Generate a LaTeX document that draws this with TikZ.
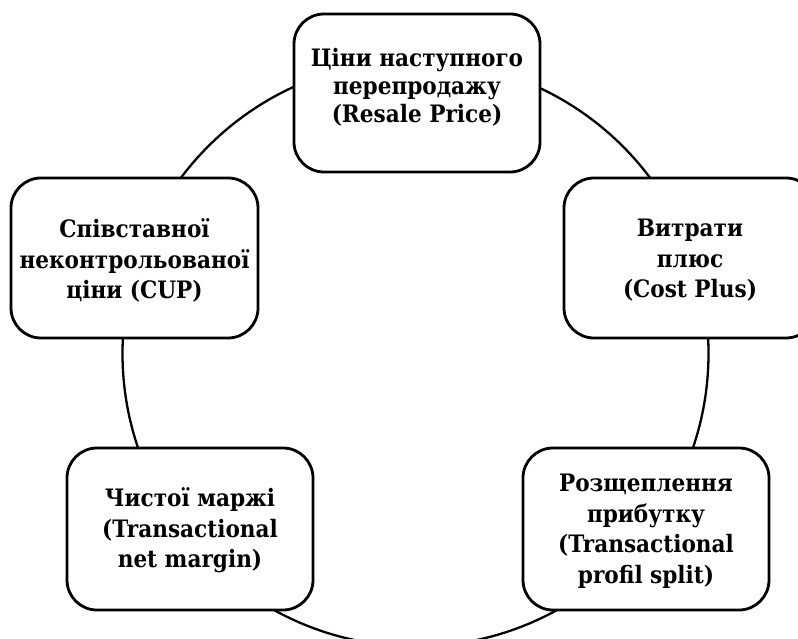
\documentclass[tikz,border=0pt]{standalone}
\usepackage{fontspec}
\setmainfont[FakeStretch=0.9]{DejaVu Serif}
\begin{document}
\begin{tikzpicture}[x=1pt,y=-1pt,
  box/.style={draw, line width=2.8pt, rounded corners=30pt, fill=white,
    minimum width=246pt, minimum height=160pt, inner sep=0pt},
  lbl/.style={align=center, font=\fontsize{24}{30.5}\selectfont\bfseries, inner sep=0pt}]
\useasboundingbox (0,0) rectangle (798,639);
\clip (0,0) rectangle (798,639);
\node[draw, circle, line width=2.3pt, minimum size=586pt, inner sep=0pt] (ring) at (415.5,353.4) {};
\node[box, minimum height=158pt] (resale) at (417,93) {};
\node[box, minimum width=247pt] (cup) at (134.5,258) {};
\node[box, minimum width=252pt] (cost) at (690,258) {};
\node[box, minimum height=162pt] (tnm) at (190,529) {};
\node[box, minimum height=162pt] (split) at (646,529) {};
\node[lbl, font=\fontsize{24}{28}\selectfont\bfseries] (resalet) at (417,87) {Ціни наступного\\перепродажу\\(Resale Price)};
\node[lbl] (cupt) at (134.5,260.5) {Співставної\\неконтрольованої\\ціни (CUP)};
\node[lbl] (costt) at (690,260.5) {Витрати\\плюс\\(Cost Plus)};
\node[lbl] (tnmt) at (190,530.5) {Чистої маржі\\(Transactional\\net margin)};
\node[lbl] (splitt) at (646,531) {Розщеплення\\прибутку\\(Transactional\\profil split)};
\end{tikzpicture}
\end{document}
